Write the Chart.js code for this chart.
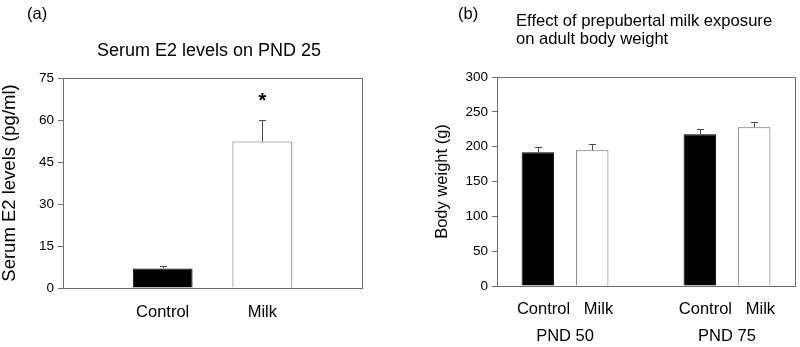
<!DOCTYPE html>
<html>
<head>
<meta charset="utf-8">
<script src="https://cdn.jsdelivr.net/npm/chart.js@4.4.1/dist/chart.umd.min.js"></script>
<style>
  html, body { margin: 0; padding: 0; background: #fff; }
  #wrap { position: relative; width: 800px; height: 347px; }
  #wrap canvas { position: absolute; top: 0; }
  #chartA { left: 0; }
  #chartB { left: 400px; }
</style>
</head>
<body>
<div id="wrap">
  <canvas id="chartA" width="400" height="347"></canvas>
  <canvas id="chartB" width="400" height="347"></canvas>
</div>
<script>
// (a) serum E2 on PND 25
const e2Groups = ['Control', 'Milk'];
const e2Means = [7.0, 52.3];
const e2Errors = [0.7, 7.8];
const e2Marks = ['', '*'];
const e2Ticks = [0, 15, 30, 45, 60, 75];

// (b) adult body weight
const bwPeriods = ['PND 50', 'PND 75'];
const bwSeries = ['Control', 'Milk'];
const bwControl = [192, 218];
const bwControlErr = [8, 7];
const bwMilk = [195, 228];
const bwMilkErr = [9, 7];
const bwTicks = [0, 50, 100, 150, 200, 250, 300];

const FONT = "'Liberation Sans', Arial, Helvetica, sans-serif";
const FRAME = '#6e6e6e';
Chart.defaults.font.family = FONT;
Chart.defaults.color = '#000';

// box round the plot area
const frame = {
  id: 'frame',
  afterDatasetsDraw(chart) {
    const { ctx, chartArea: a } = chart;
    ctx.save();
    ctx.strokeStyle = FRAME;
    ctx.lineWidth = 1;
    const l = Math.round(a.left) + 0.5, t = Math.round(a.top) + 0.5;
    ctx.strokeRect(l, t, Math.round(a.right) - Math.round(a.left), Math.round(a.bottom) - Math.round(a.top));
    ctx.restore();
  }
};

// upper error bars + significance marks
const errorBars = {
  id: 'errorBars',
  afterDatasetsDraw(chart) {
    const { ctx } = chart;
    const y = chart.scales.y;
    ctx.save();
    ctx.strokeStyle = '#4a4a4a';
    ctx.lineWidth = 1;
    chart.data.datasets.forEach((ds, i) => {
      chart.getDatasetMeta(i).data.forEach((bar, j) => {
        const v = ds.data[j].y;
        const top = Math.round(y.getPixelForValue(v + ds.errors[j])) + 0.5;
        const x = Math.round(bar.x) + 0.5;
        ctx.beginPath();
        ctx.moveTo(x, bar.y);
        ctx.lineTo(x, top);
        ctx.moveTo(x - 3.5, top);
        ctx.lineTo(x + 3.5, top);
        ctx.stroke();
        if (ds.marks && ds.marks[j]) {
          ctx.fillStyle = '#000';
          ctx.font = 'bold 20px ' + FONT;
          ctx.textAlign = 'center';
          ctx.textBaseline = 'middle';
          ctx.fillText(ds.marks[j], x, top - 19);
        }
      });
    });
    ctx.restore();
  }
};

function header(items) {
  return {
    id: 'header',
    afterDraw(chart) {
      const { ctx } = chart;
      ctx.save();
      ctx.fillStyle = '#000';
      ctx.textBaseline = 'alphabetic';
      items.forEach(it => {
        ctx.font = it.size + 'px ' + FONT;
        ctx.textAlign = it.align;
        ctx.fillText(it.text, it.x, it.y);
      });
      ctx.restore();
    }
  };
}

function yAxis(ticks, width, title, titleSize, titlePad) {
  return {
    type: 'linear',
    min: ticks[0],
    max: ticks[ticks.length - 1],
    afterBuildTicks: s => { s.ticks = ticks.map(v => ({ value: v })); },
    afterFit: s => { s.width = width; },
    grid: { drawOnChartArea: false, drawTicks: true, tickLength: 5, color: FRAME },
    border: { display: false },
    ticks: { padding: 4, font: { size: 13.5 } },
    title: {
      display: true, text: title, color: '#000',
      padding: { top: titlePad, bottom: 0 },
      font: { size: titleSize, lineHeight: 1 }
    }
  };
}

const common = {
  responsive: false,
  animation: false,
  plugins: { legend: { display: false }, tooltip: { enabled: false } }
};

new Chart(document.getElementById('chartA'), {
  type: 'bar',
  data: {
    datasets: [{
      data: e2Groups.map((g, i) => ({ x: i + 1, y: e2Means[i] })),
      backgroundColor: ['#000', '#fff'],
      borderColor: ['#000', '#666'],
      borderWidth: 1,
      barPercentage: 0.6,
      categoryPercentage: 1,
      errors: e2Errors,
      marks: e2Marks
    }]
  },
  options: {
    ...common,
    layout: { padding: { left: 0, right: 38, top: 78, bottom: 0 } },
    scales: {
      x: {
        type: 'linear',
        min: 0,
        max: e2Groups.length + 1,
        offset: false,
        afterBuildTicks: s => { s.ticks = e2Groups.map((g, i) => ({ value: i + 1 })); },
        afterFit: s => { s.height = 59; },
        grid: { display: false, drawTicks: false },
        border: { display: false },
        ticks: { callback: v => e2Groups[v - 1], padding: 15, font: { size: 16.5 } }
      },
      y: yAxis(e2Ticks, 63, 'Serum E2 levels (pg/ml)', 18.5, 0.5)
    }
  },
  plugins: [frame, errorBars, header([
    { text: '(a)', x: 27, y: 18.5, size: 16.5, align: 'left' },
    { text: 'Serum E2 levels on PND 25', x: 209, y: 56, size: 18, align: 'center' }
  ])]
});

new Chart(document.getElementById('chartB'), {
  type: 'bar',
  data: {
    datasets: [
      {
        label: bwSeries[0],
        data: bwPeriods.map((p, i) => ({ x: i, y: bwControl[i] })),
        backgroundColor: '#000', borderColor: '#000', borderWidth: 1,
        errors: bwControlErr
      },
      {
        label: bwSeries[1],
        data: bwPeriods.map((p, i) => ({ x: i, y: bwMilk[i] })),
        backgroundColor: '#fff', borderColor: '#666', borderWidth: 1,
        errors: bwMilkErr
      }
    ]
  },
  options: {
    ...common,
    datasets: { bar: { barPercentage: 0.6, categoryPercentage: 0.67 } },
    layout: { padding: { left: 0, right: 5, top: 77, bottom: 0 } },
    scales: {
      x: {
        type: 'linear',
        min: -0.42,
        max: bwPeriods.length - 1 + 0.42,
        offset: false,
        afterBuildTicks: s => { s.ticks = bwPeriods.map((p, i) => ({ value: i })); },
        afterFit: s => { s.height = 61; },
        grid: { display: false, drawTicks: false },
        border: { display: false },
        ticks: {
          callback: v => [bwSeries.join('   '), bwPeriods[v]],
          padding: 9.25,
          font: { size: 16.5, lineHeight: 1.667 }
        }
      },
      y: yAxis(bwTicks, 97, 'Body weight (g)', 16.5, 34.5)
    }
  },
  plugins: [frame, errorBars, header([
    { text: '(b)', x: 58, y: 18.5, size: 16.5, align: 'left' },
    { text: 'Effect of prepubertal milk exposure', x: 116, y: 26, size: 16.6, align: 'left' },
    { text: 'on adult body weight', x: 116, y: 43.5, size: 16.6, align: 'left' }
  ])]
});
</script>
</body>
</html>
